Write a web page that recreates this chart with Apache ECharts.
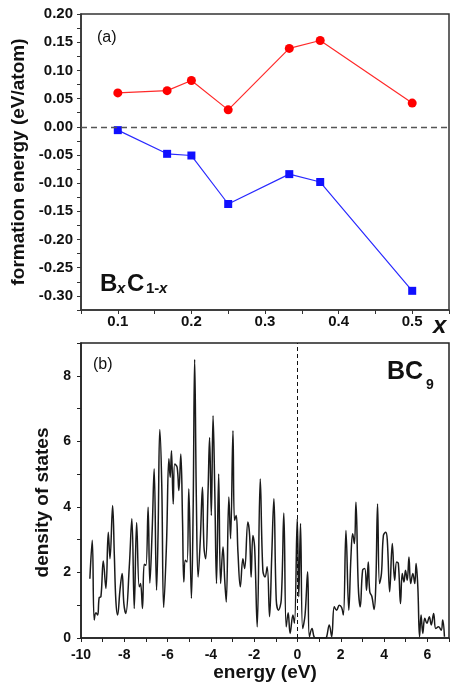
<!DOCTYPE html>
<html>
<head>
<meta charset="utf-8">
<script src="https://cdn.jsdelivr.net/npm/echarts@6/dist/echarts.min.js"></script>
<style>
    html, body { margin: 0; padding: 0; background: #fff; }
    #chart { width: 457px; height: 686px; }
</style>
</head>
<body>
<div id="chart"></div>
<script>
// (a) formation energy of BxC1-x
const xFraction = [0.1, 0.167, 0.2, 0.25, 0.333, 0.375, 0.5];
const energyRed = [0.060, 0.064, 0.082, 0.030, 0.139, 0.153, 0.042];
const energyBlue = [-0.006, -0.048, -0.051, -0.137, -0.084, -0.098, -0.291];

// (b) density of states of BC9
const dosEnergy = [
    -9.59, -9.48, -9.39, -9.31, -9.23, -9.16, -9.08, -8.97, -8.85, -8.74,
    -8.66, -8.54, -8.46, -8.39, -8.31, -8.20, -8.10, -8.02, -7.93, -7.77,
    -7.65, -7.54, -7.43, -7.31, -7.25, -7.16, -7.08, -7.00, -6.90, -6.82,
    -6.71, -6.62, -6.51, -6.44, -6.36, -6.27, -6.18, -6.05, -5.94, -5.88,
    -5.82, -5.74, -5.67, -5.56, -5.48, -5.39, -5.31, -5.25, -5.18, -5.10,
    -5.02, -4.90, -4.82, -4.75, -4.67, -4.59, -4.49, -4.39, -4.32, -4.24,
    -4.13, -4.06, -3.98, -3.90, -3.82, -3.74, -3.64, -3.55, -3.44, -3.36,
    -3.29, -3.17, -3.09, -2.98, -2.91, -2.83, -2.75, -2.64, -2.52, -2.44,
    -2.29, -2.21, -2.14, -2.06, -1.98, -1.86, -1.72, -1.60, -1.50, -1.40,
    -1.29, -1.19, -1.09, -0.98, -0.88, -0.75, -0.63, -0.52, -0.43, -0.34,
    -0.21, -0.14, -0.01, 0.06, 0.14, 0.24, 0.35, 0.47, 0.55, 0.67,
    0.78, 0.90, 1.30, 1.35, 1.47, 1.58, 1.70, 1.81, 1.93, 2.04,
    2.12, 2.24, 2.37, 2.47, 2.55, 2.63, 2.70, 2.81, 2.90, 3.01,
    3.11, 3.19, 3.27, 3.34, 3.44, 3.54, 3.62, 3.70, 3.79, 3.88,
    3.97, 4.08, 4.15, 4.26, 4.38, 4.49, 4.58, 4.66, 4.76, 4.84,
    4.92, 4.99, 5.07, 5.15, 5.23, 5.33, 5.42, 5.48, 5.56, 5.64,
    5.71, 5.79, 5.88, 5.98, 6.09, 6.18, 6.29, 6.39, 6.52, 6.64,
    6.71, 6.79
];
const dosValue = [
    1.81, 2.98, 0.55, 0.77, 0.70, 1.23, 1.26, 2.35, 1.51, 3.23,
    2.42, 4.04, 2.52, 1.15, 0.70, 1.46, 1.97, 1.05, 0.75, 2.17,
    3.64, 0.90, 3.52, 1.56, 1.66, 0.90, 2.25, 2.22, 3.99, 1.68,
    3.33, 5.16, 1.46, 3.18, 6.36, 4.70, 0.93, 2.88, 5.47, 4.90,
    5.71, 4.09, 5.31, 5.21, 4.50, 5.61, 3.59, 1.71, 2.37, 2.32,
    4.55, 1.21, 3.89, 8.50, 4.19, 1.86, 2.98, 4.60, 2.78, 2.42,
    4.50, 6.12, 3.74, 6.78, 4.50, 1.66, 5.00, 1.66, 2.78, 1.76,
    1.10, 4.30, 3.03, 6.32, 3.59, 3.74, 2.62, 1.56, 2.42, 2.12,
    3.54, 3.13, 1.86, 3.13, 2.78, 0.34, 4.85, 2.07, 1.86, 2.17,
    0.65, 2.47, 4.25, 1.16, 0.85, 1.16, 3.81, 0.34, 0.77, 0.14,
    0.70, 0.45, 3.64, 1.26, 3.49, 0.29, 0.70, 2.02, 0.04, 0.29,
    0.02, 0.00, 0.00, 0.04, 0.40, 0.04, 0.95, 0.85, 1.00, 0.93,
    0.70, 3.28, 0.85, 2.47, 3.18, 2.88, 4.14, 1.56, 0.95, 2.07,
    2.12, 1.46, 2.32, 1.41, 1.26, 0.87, 1.66, 4.09, 1.66, 1.97,
    3.13, 3.23, 2.98, 1.41, 2.88, 1.76, 2.32, 2.27, 1.05, 1.97,
    1.71, 2.07, 1.76, 2.47, 1.66, 1.97, 1.66, 2.27, 1.56, 0.04,
    0.70, 0.14, 0.60, 0.45, 0.65, 0.40, 0.75, 0.29, 0.34, 0.24,
    0.55, 0.04
];

const FONT = '"Liberation Sans", Arial, sans-serif';
const myChart = echarts.init(document.getElementById('chart'));

const isMultiple = (v, step) => Math.abs(v / step - Math.round(v / step)) < 1e-6;

const tickLabel = size => ({
    color: '#111',
    fontFamily: FONT,
    fontWeight: 'bold',
    fontSize: size
});

const nameStyle = size => ({ color: '#111', fontFamily: FONT, fontWeight: 'bold', fontSize: size });

let option = {
    backgroundColor: '#fff',
    animation: false,
    grid: [
        { left: 81, right: 8, top: 14, height: 296, show: true, borderColor: '#333', borderWidth: 1.5 },
        { left: 81, right: 8, top: 343, height: 295, show: true, borderColor: '#222', borderWidth: 1.5 }
    ],
    xAxis: [
        {
            gridIndex: 0,
            type: 'value',
            min: 0.05,
            max: 0.55,
            interval: 0.05,
            axisLine: { onZero: false, lineStyle: { color: '#333', width: 1.5 } },
            axisTick: { length: 4, lineStyle: { color: '#333' } },
            splitLine: { show: false },
            axisLabel: Object.assign(tickLabel(15), {
                margin: 4,
                formatter: v => isMultiple(v, 0.1) && v > 0.06 ? v.toFixed(1) : ''
            })
        },
        {
            gridIndex: 1,
            type: 'value',
            min: -10,
            max: 7,
            interval: 2,
            name: 'energy (eV)',
            nameLocation: 'middle',
            nameGap: 25,
            nameTextStyle: nameStyle(19),
            axisLine: { onZero: false, lineStyle: { color: '#222', width: 1.5 } },
            axisTick: { length: 4, lineStyle: { color: '#222' } },
            minorTick: { show: true, splitNumber: 2, length: 4, lineStyle: { color: '#222' } },
            splitLine: { show: false },
            axisLabel: Object.assign(tickLabel(14), {
                margin: 10,
                formatter: v => (v % 2 === 0 && v < 7 ? String(v) : '')
            })
        }
    ],
    yAxis: [
        {
            gridIndex: 0,
            type: 'value',
            min: -0.325,
            max: 0.2,
            interval: 0.025,
            name: 'formation energy (eV/atom)',
            nameLocation: 'middle',
            nameGap: 42,
            nameTextStyle: nameStyle(19),
            axisLine: { onZero: false, lineStyle: { color: '#333', width: 1.5 } },
            axisTick: { length: 4, lineStyle: { color: '#333' } },
            splitLine: { show: false },
            axisLabel: Object.assign(tickLabel(15), {
                margin: 8,
                formatter: v => {
                    if (!isMultiple(v, 0.05) || v < -0.31) return '';
                    return Math.abs(v) < 1e-9 ? '0.00' : v.toFixed(2);
                }
            })
        },
        {
            gridIndex: 1,
            type: 'value',
            min: 0,
            max: 9,
            interval: 2,
            name: 'density of states',
            nameLocation: 'middle',
            nameGap: 27,
            nameTextStyle: Object.assign(nameStyle(19), { padding: [0, 24, 0, 0] }),
            axisLine: { onZero: false, lineStyle: { color: '#222', width: 1.5 } },
            axisTick: { length: 4, lineStyle: { color: '#222' } },
            minorTick: { show: true, splitNumber: 2, length: 4, lineStyle: { color: '#222' } },
            splitLine: { show: false },
            axisLabel: Object.assign(tickLabel(14), {
                margin: 10,
                formatter: v => (v % 2 === 0 && v < 9 ? String(v) : '')
            })
        }
    ],
    series: [
        {
            name: 'upper',
            type: 'line',
            xAxisIndex: 0,
            yAxisIndex: 0,
            data: xFraction.map((x, i) => [x, energyRed[i]]),
            symbol: 'circle',
            symbolSize: 9,
            lineStyle: { color: '#ff2a2a', width: 1.2 },
            itemStyle: { color: '#ff0000' },
            markLine: {
                silent: true,
                symbol: 'none',
                label: { show: false },
                lineStyle: { color: '#555', type: [6, 4], width: 1.3 },
                data: [{ yAxis: 0 }]
            }
        },
        {
            name: 'lower',
            type: 'line',
            xAxisIndex: 0,
            yAxisIndex: 0,
            data: xFraction.map((x, i) => [x, energyBlue[i]]),
            symbol: 'rect',
            symbolSize: 8,
            lineStyle: { color: '#2a2aff', width: 1.2 },
            itemStyle: { color: '#1010ff' }
        },
        {
            name: 'dos',
            type: 'line',
            xAxisIndex: 1,
            yAxisIndex: 1,
            data: dosEnergy.map((e, i) => [e, dosValue[i]]),
            showSymbol: false,
            smooth: 0.4,
            clip: true,
            lineStyle: { color: '#1a1a1a', width: 1.5 },
            markLine: {
                silent: true,
                symbol: 'none',
                label: { show: false },
                lineStyle: { color: '#111', type: [4, 3], width: 1 },
                data: [{ xAxis: 0 }]
            }
        }
    ],
    graphic: [
        { type: 'text', left: 97, top: 30, style: { text: '(a)', font: '16px ' + FONT, fill: '#111' } },
        { type: 'text', left: 93, top: 357, style: { text: '(b)', font: '16px ' + FONT, fill: '#111' } },
        { type: 'text', left: 100, top: 272, style: { text: 'B', font: 'bold 24px ' + FONT, fill: '#111' } },
        { type: 'text', left: 117, top: 281, style: { text: 'x', font: 'italic bold 15px ' + FONT, fill: '#111' } },
        { type: 'text', left: 127, top: 272, style: { text: 'C', font: 'bold 24px ' + FONT, fill: '#111' } },
        { type: 'text', left: 146, top: 281, style: { text: '1-', font: 'bold 15px ' + FONT, fill: '#111' } },
        { type: 'text', left: 159, top: 281, style: { text: 'x', font: 'italic bold 15px ' + FONT, fill: '#111' } },
        { type: 'text', left: 433, top: 314, style: { text: 'x', font: 'italic bold 24px ' + FONT, fill: '#111' } },
        { type: 'text', left: 387, top: 360, style: { text: 'BC', font: 'bold 25px ' + FONT, fill: '#111' } },
        { type: 'text', left: 426, top: 378, style: { text: '9', font: 'bold 14px ' + FONT, fill: '#111' } }
    ]
};

myChart.setOption(option);
</script>
</body>
</html>
